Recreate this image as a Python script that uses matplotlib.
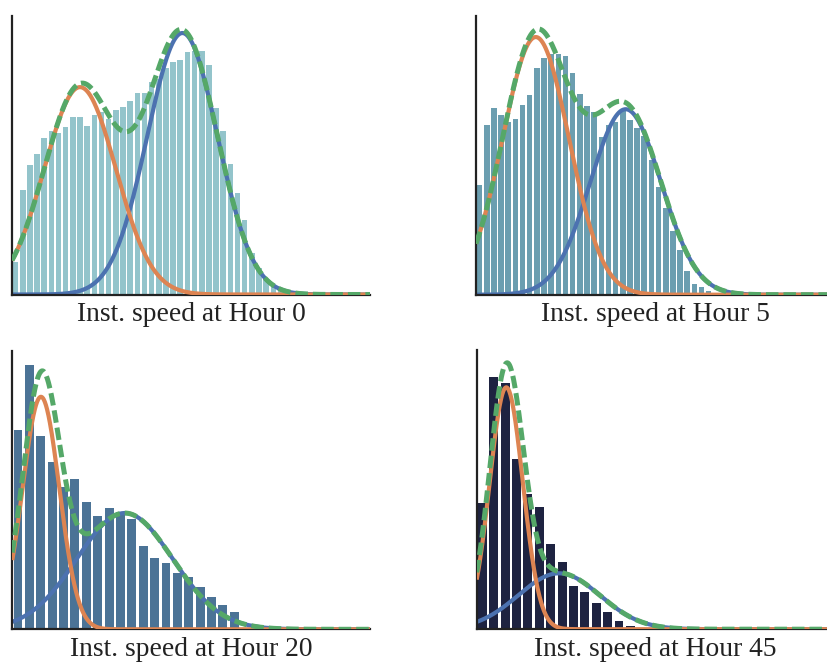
import numpy as np
import matplotlib
matplotlib.use("Agg")
import matplotlib.pyplot as plt

# ---------------- data ----------------
titles = ["Inst. speed at Hour 0", "Inst. speed at Hour 5",
          "Inst. speed at Hour 20", "Inst. speed at Hour 45"]

# histogram bar heights (bins starting at x=0)
hour0_counts = [32, 104, 129, 140, 156, 163, 161, 167, 177, 177, 168, 179, 182,
                175, 184, 187, 193, 201, 201, 212, 215, 226, 232, 234, 242, 243,
                243, 229, 186, 163, 130, 101, 74, 41, 26, 14, 8, 4, 2]
hour5_counts = [109, 169, 186, 179, 172, 175, 189, 199, 226, 236, 240, 240, 238,
                221, 200, 188, 182, 157, 169, 172, 183, 174, 166, 158, 134, 107,
                86, 64, 45, 24, 11, 8, 4, 2]
hour20_counts = [199, 264, 193, 167, 142, 150, 127, 113, 121, 117, 110, 83, 71,
                 66, 56, 52, 42, 32, 24, 17]
hour45_counts = [126, 251, 245, 170, 135, 122, 85, 67, 43, 37, 26, 17, 8.5, 3.5, 1.5]
bin_widths = [1.0, 1.0, 1.59, 1.59]

# Gaussian mixture components: (amplitude, mean, std)
orange_params = [(207, 9.5, 5.0), (257, 8.35, 4.64), (232, 4.0, 2.57), (241, 4.13, 2.32)]
blue_params = [(261, 23.8, 4.9), (185, 20.9, 4.94), (116, 15.7, 6.7), (55.7, 11.5, 5.7)]

bar_colors = ["#93c4cb", "#6b9eb0", "#4b7396", "#1e2341"]
c_orange = "#dd8452"
c_blue = "#4c72b0"
c_green = "#55a868"

counts_all = [hour0_counts, hour5_counts, hour20_counts, hour45_counts]

# ---------------- layout (pixels) ----------------
W, H = 827, 665
fig = plt.figure(figsize=(W / 100, H / 100), dpi=100)
axes_px = [(12, 16, 358, 278.5), (476, 16, 358, 278.7),
           (12.3, 350.7, 358, 278.6), (476.7, 350.2, 358, 279)]

xs = np.linspace(0, 50, 1000)


def gauss(x, a, m, s):
    return a * np.exp(-(x - m) ** 2 / (2 * s ** 2))


for i in range(4):
    l, t, w, h = axes_px[i]
    ax = fig.add_axes([l / W, 1 - (t + h) / H, w / W, h / H])
    bw = bin_widths[i]
    cnt = counts_all[i]
    centers = (np.arange(len(cnt)) + 0.5) * bw
    ax.bar(centers, cnt, width=0.78 * bw, color=bar_colors[i], linewidth=0, zorder=1)
    yo = gauss(xs, *orange_params[i])
    yb = gauss(xs, *blue_params[i])
    ax.plot(xs, yb, color=c_blue, lw=3.0, zorder=2, solid_capstyle="butt")
    ax.plot(xs, yo, color=c_orange, lw=3.0, zorder=3, solid_capstyle="butt")
    ax.plot(xs, yo + yb, color=c_green, lw=3.6, zorder=4, dashes=(2.5, 1.0))
    ax.set_xlim(0, 50)
    ax.set_ylim(0, 278)
    ax.set_xticks([])
    ax.set_yticks([])
    for s in ["top", "right"]:
        ax.spines[s].set_visible(False)
    for s in ["left", "bottom"]:
        ax.spines[s].set_linewidth(1.6)
        ax.spines[s].set_color("#222222")
    ax.text((W / 2 if False else 0.5) if False else 0.5, -26.7 / h, titles[i],
            transform=ax.transAxes, ha="center", va="baseline",
            fontsize=19.8, family="Liberation Serif", color="#222222")

fig.savefig("out.png", dpi=100)
